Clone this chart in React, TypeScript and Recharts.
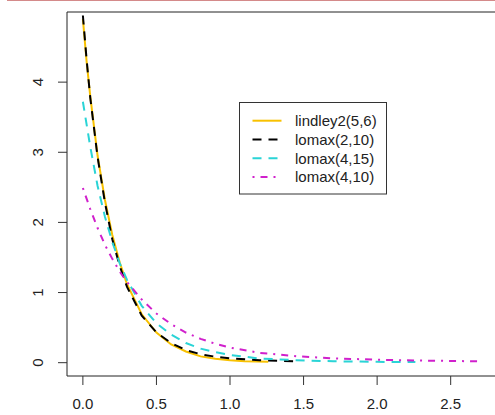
import { LineChart, Line, XAxis, YAxis, ReferenceArea } from 'recharts'

// values
const lindleyX = [0, 0.025, 0.05, 0.1, 0.15, 0.2, 0.25, 0.3, 0.4, 0.5, 0.6, 0.7, 0.8, 0.9, 1.0, 1.1, 1.26]
const lindleyY = [4.9, 4.3, 3.8, 2.95, 2.32, 1.82, 1.43, 1.12, 0.69, 0.43, 0.26, 0.16, 0.09, 0.055, 0.035, 0.022, 0.012]

const lomax210X = [0, 0.025, 0.05, 0.1, 0.15, 0.2, 0.25, 0.3, 0.4, 0.5, 0.6, 0.7, 0.8, 0.9, 1.0, 1.2, 1.45]
const lomax210Y = [4.95, 4.33, 3.78, 2.93, 2.28, 1.76, 1.38, 1.08, 0.67, 0.43, 0.28, 0.18, 0.12, 0.085, 0.06, 0.035, 0.018]

const lomax415X = [0, 0.05, 0.1, 0.15, 0.2, 0.25, 0.3, 0.4, 0.5, 0.6, 0.7, 0.8, 0.9, 1.0, 1.2, 1.45, 1.7, 2.0, 2.26]
const lomax415Y = [3.72, 3.08, 2.52, 2.08, 1.72, 1.42, 1.18, 0.81, 0.56, 0.4, 0.28, 0.2, 0.15, 0.11, 0.06, 0.035, 0.02, 0.012, 0.008]

const lomax410X = [0, 0.05, 0.1, 0.15, 0.2, 0.25, 0.3, 0.4, 0.5, 0.6, 0.7, 0.8, 0.9, 1.0, 1.2, 1.45, 1.7, 2.0, 2.3, 2.7]
const lomax410Y = [2.49, 2.19, 1.92, 1.68, 1.48, 1.3, 1.15, 0.9, 0.7, 0.55, 0.43, 0.34, 0.27, 0.215, 0.14, 0.092, 0.062, 0.042, 0.03, 0.019]

const xTicks = [0, 0.5, 1, 1.5, 2, 2.5]
const yTicks = [0, 1, 2, 3, 4]

const toRows = (xs: number[], ys: number[]) => xs.map((x, i) => ({ x, y: ys[i] }))

const SERIES = [
  { name: 'lindley2(5,6)', color: '#f8c100', dash: undefined, data: toRows(lindleyX, lindleyY) },
  { name: 'lomax(2,10)', color: '#000000', dash: '9 7', data: toRows(lomax210X, lomax210Y) },
  { name: 'lomax(4,15)', color: '#2ad4d6', dash: '9 7', data: toRows(lomax415X, lomax415Y) },
  { name: 'lomax(4,10)', color: '#d020cc', dash: '2 6 7 6', data: toRows(lomax410X, lomax410Y) },
]

const FONT = 'Arial, "Liberation Sans", sans-serif'

function YTick(props: any) {
  const { y, payload } = props
  const cx = 38
  return (
    <text
      x={cx}
      y={y}
      dy="0.35em"
      textAnchor="middle"
      fontSize={15}
      fontFamily={FONT}
      fill="#222"
      transform={`rotate(-90, ${cx}, ${y})`}
    >
      {payload.value}
    </text>
  )
}

function LegendBox() {
  return (
    <svg width={148} height={93} style={{ position: 'absolute', left: 239, top: 102, display: 'block' }}>
      <rect x={0.5} y={0.5} width={147} height={91.5} fill="#fff" stroke="#333" strokeWidth={1} />
      {SERIES.map((s, i) => {
        const ry = 18.7 + i * 18.8
        return (
          <g key={s.name}>
            <line x1={13.5} x2={42.5} y1={ry} y2={ry} stroke={s.color} strokeWidth={2} strokeDasharray={s.dash} />
            <text x={56} y={ry} dy="0.35em" fontSize={15} fontFamily={FONT} fill="#222">
              {s.name}
            </text>
          </g>
        )
      })}
    </svg>
  )
}

export default function App() {
  return (
    <div style={{ position: 'absolute', left: 0, top: 0, width: 495, height: 415, overflow: 'hidden', background: '#fff' }}>
      <div style={{ position: 'absolute', left: 7, top: 0, width: 488, height: 1, background: '#d48a8a' }} />
      <LineChart width={500} height={415} margin={{ top: 12, right: 4, left: 0, bottom: 0 }}>
        <XAxis
          type="number"
          dataKey="x"
          domain={[-0.108, 2.808]}
          allowDataOverflow
          ticks={xTicks}
          tickFormatter={(v: number) => v.toFixed(1)}
          height={39}
          tickSize={9}
          tickMargin={13}
          axisLine={false}
          tickLine={{ stroke: '#333' }}
          tick={{ fontSize: 15, fontFamily: FONT, fill: '#222' }}
        />
        <YAxis
          type="number"
          dataKey="y"
          domain={[-0.19, 5.0]}
          allowDataOverflow
          ticks={yTicks}
          width={67}
          tickSize={9}
          axisLine={false}
          tickLine={{ stroke: '#333' }}
          tick={<YTick />}
        />
        <ReferenceArea
          x1={-0.108}
          x2={2.808}
          y1={-0.19}
          y2={5.0}
          fill="none"
          fillOpacity={0}
          stroke="#222"
          strokeWidth={1}
          ifOverflow="visible"
        />
        {SERIES.map((s) => (
          <Line
            key={s.name}
            data={s.data}
            dataKey="y"
            name={s.name}
            type="linear"
            stroke={s.color}
            strokeWidth={2}
            strokeDasharray={s.dash}
            dot={false}
            activeDot={false}
            isAnimationActive={false}
          />
        ))}
      </LineChart>
      <LegendBox />
    </div>
  )
}
